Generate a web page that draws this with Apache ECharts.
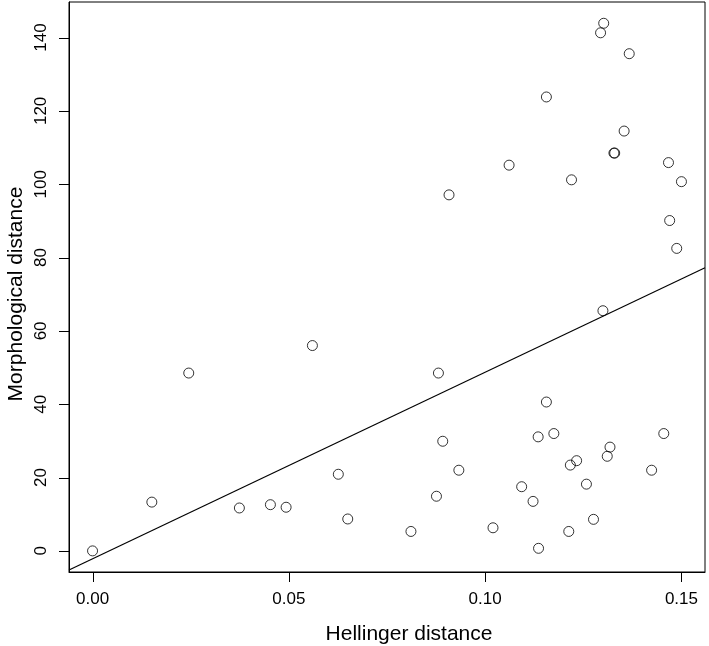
<!DOCTYPE html>
<html><head><meta charset="utf-8">
<script src="https://cdn.jsdelivr.net/npm/echarts@6/dist/echarts.min.js"></script>
<style>html,body{margin:0;padding:0;background:#fff}#c{width:709px;height:646px}</style>
</head><body><div id="c"></div>
<script>
const hellinger = [0.0000,0.0151,0.0245,0.0374,0.0453,0.0493,0.0560,0.0626,0.0650,0.0811,0.0876,0.0881,0.0892,0.0933,0.1020,0.1093,0.1122,0.1135,0.1136,0.1156,0.1175,0.1213,0.1217,0.1233,0.1258,0.1276,0.1300,0.1311,0.1318,0.1424,0.1455,0.0908,0.1061,0.1156,0.1220,0.1294,0.1302,0.1367,0.1354,0.1328,0.1330,0.1467,0.1500,0.1470,0.1488];
const morphological = [0.0,13.3,48.5,11.7,12.6,11.9,56.0,20.9,8.7,5.3,14.9,48.5,29.9,22.0,6.3,17.5,13.5,31.1,0.7,40.6,32.0,5.3,23.4,24.6,18.2,8.6,65.5,25.8,28.3,22.0,32.0,97.1,105.2,123.8,101.2,141.3,143.9,135.6,114.5,108.5,108.5,105.9,100.7,90.1,82.5];
const fitX = [-0.006, 0.156];
const fitY = [-5.2, 77.2];
const xTicks = [0, 0.05, 0.10, 0.15];
const xTickLabels = ['0.00','0.05','0.10','0.15'];
const yTicks = [0, 20, 40, 60, 80, 100, 120, 140];
const xTitle = 'Hellinger distance';
const yTitle = 'Morphological distance';
const xMin = -0.006, xMax = 0.156, yMin = -5.76, yMax = 149.7;

const chart = echarts.init(document.getElementById('c'));
const font = '"Liberation Sans", Arial, sans-serif';
const TICK = 10;
const titles = [
  {type: 'text', x: 409, y: 634, style: {text: xTitle, fontFamily: font, fontSize: 21, fill: '#000', align: 'center', verticalAlign: 'middle'}},
  {type: 'text', x: 16, y: 294, rotation: Math.PI / 2, style: {text: yTitle, fontFamily: font, fontSize: 21, fill: '#000', align: 'center', verticalAlign: 'middle'}}
];
chart.setOption({
  animation: false,
  grid: {left: 69, right: 4, top: 2, bottom: 74, show: true, borderColor: '#000', borderWidth: 1,
         outerBoundsMode: 'none'},
  graphic: titles,
  xAxis: {
    type: 'value', min: xMin, max: xMax,
    axisLine: {show: true, onZero: false, lineStyle: {color: '#000'}},
    splitLine: {show: false},
    axisTick: {show: false},
    axisLabel: {customValues: xTicks, fontFamily: font, fontSize: 17, color: '#000', margin: 19,
      formatter: v => xTickLabels[xTicks.findIndex(t => Math.abs(t - v) < 1e-9)] ?? ''}
  },
  yAxis: {
    type: 'value', min: yMin, max: yMax,
    axisLine: {show: true, onZero: false, lineStyle: {color: '#000'}},
    splitLine: {show: false},
    axisTick: {show: false},
    axisLabel: {customValues: yTicks, rotate: 90, fontFamily: font, fontSize: 17, color: '#000', margin: 19}
  },
  series: [
    {type: 'scatter', symbol: 'circle', symbolSize: 10,
     itemStyle: {color: 'rgba(255,255,255,0)', borderColor: '#000', borderWidth: 1},
     data: hellinger.map((x, i) => [x, morphological[i]])},
    {type: 'line', symbol: 'none', lineStyle: {color: '#000', width: 1.2},
     data: fitX.map((x, i) => [x, fitY[i]])}
  ]
});
const tickMarks = [];
xTicks.forEach(t => {
  const p = chart.convertToPixel({gridIndex: 0}, [t, yMin]);
  const x = Math.round(p[0]) + 0.5;
  tickMarks.push({type: 'line', z: 100, shape: {x1: x, y1: p[1], x2: x, y2: p[1] + TICK},
                  style: {stroke: '#000', lineWidth: 1}});
});
yTicks.forEach(t => {
  const p = chart.convertToPixel({gridIndex: 0}, [xMin, t]);
  const y = Math.round(p[1]) + 0.5;
  tickMarks.push({type: 'line', z: 100, shape: {x1: p[0], y1: y, x2: p[0] - TICK, y2: y},
                  style: {stroke: '#000', lineWidth: 1}});
});
chart.setOption({graphic: titles.concat(tickMarks)}, {replaceMerge: ['graphic']});
</script></body></html>
